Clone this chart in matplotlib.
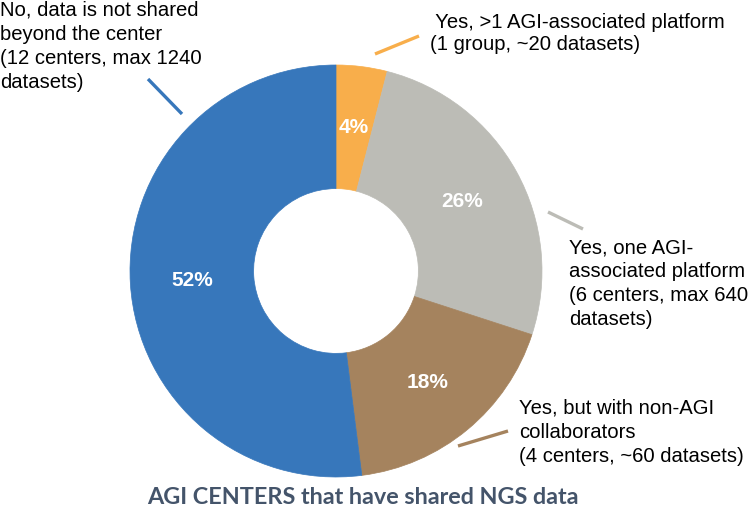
import matplotlib
matplotlib.use("Agg")
import matplotlib.pyplot as plt

# data
shares = [4, 26, 18, 52]
colors = ["#F8AE4B", "#BCBCB6", "#A5835E", "#3777BB"]
labels = [
    " Yes, >1 AGI-associated platform\n(1 group, ~20 datasets)",
    "Yes, one AGI-\nassociated platform\n(6 centers, max 640\ndatasets)",
    "Yes, but with non-AGI\ncollaborators\n(4 centers, ~60 datasets)",
    "No, data is not shared\nbeyond the center\n(12 centers, max 1240\ndatasets)",
]
title = "AGI CENTERS that have shared NGS data"

W, H = 750, 513
fig = plt.figure(figsize=(W / 100, H / 100), dpi=100)
ax = fig.add_axes([0, 0, 1, 1])

cx, cy, R = 336, H - 271, 206
wedges, _, pcts = ax.pie(
    shares, colors=colors, startangle=90, counterclock=False,
    center=(cx, cy), radius=R, autopct="%d%%", pctdistance=0.70,
    wedgeprops=dict(width=R * 0.60, linewidth=0.5),
    textprops=dict(color="white", fontsize=15, fontweight="bold",
                   family="Liberation Sans"),
)
for w, c in zip(wedges, colors):
    w.set_edgecolor(c)
ax.set_xlim(0, W)
ax.set_ylim(0, H)
ax.set_aspect("auto")
ax.axis("off")

# label anchors (left, top), line spacing and leader lines, pixels from top-left
label_pos = [(430, 13), (569, 238), (519, 399), (0, 1)]
spacing = [1.22, 1.33, 1.33, 1.33]
leaders = [((375, 54), (419, 36)), ((548, 212), (583, 229)),
           ((458, 446), (508, 431)), ((182, 114), (148, 79))]

for lab, (lx, ly), ls, (p0, p1), c in zip(labels, label_pos, spacing, leaders, colors):
    ax.text(lx, H - ly, lab, ha="left", va="top", fontsize=14.6,
            family="Liberation Sans", color="black", linespacing=ls)
    ax.plot([p0[0], p1[0]], [H - p0[1], H - p1[1]], color=c, lw=2.4,
            solid_capstyle="butt")

ax.text(363, H - 497, title, ha="center", va="center", fontsize=16.8,
        fontweight="bold", family="Lato", color="#44546A")

fig.savefig("out.png", dpi=100)
